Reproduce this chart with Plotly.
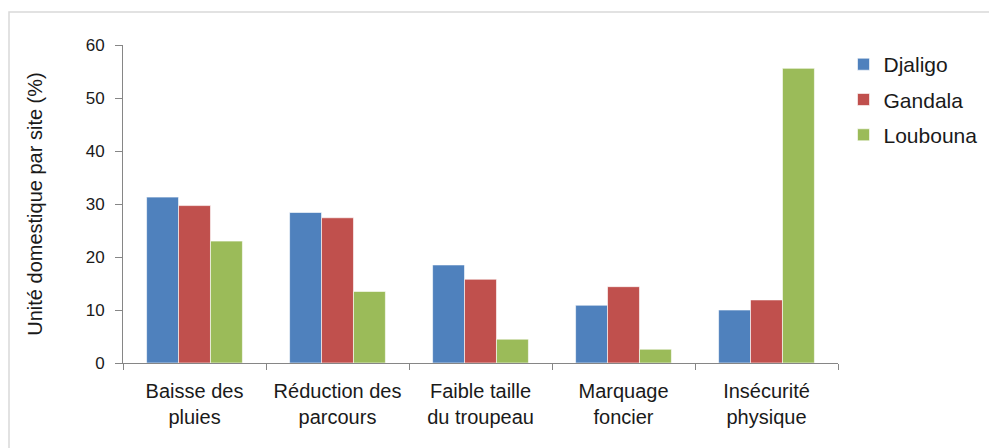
import plotly.graph_objects as go

categories = ["Baisse des<br>pluies", "Réduction des<br>parcours", "Faible taille<br>du troupeau",
              "Marquage<br>foncier", "Insécurité<br>physique"]
djaligo = [31.3, 28.4, 18.5, 10.9, 10.0]
gandala = [29.7, 27.4, 15.8, 14.4, 11.9]
loubouna = [23.0, 13.5, 4.5, 2.6, 55.6]

series = [("Djaligo", djaligo, "#4F81BD"),
          ("Gandala", gandala, "#C0504D"),
          ("Loubouna", loubouna, "#9BBB59")]

fig = go.Figure()
for name, vals, col in series:
    fig.add_trace(go.Bar(x=categories, y=vals, name=name, marker_color=col,
                         marker_line=dict(color="rgba(255,255,255,0.6)", width=1),
                         legendgroup=name))

fig.update_layout(
    width=989, height=448,
    margin=dict(l=123, r=151, t=45, b=85, autoexpand=False),
    paper_bgcolor="white", plot_bgcolor="white",
    barmode="group", bargap=0.33, bargroupgap=0,
    font=dict(family="Liberation Sans, Arial, sans-serif", size=17, color="#1a1a1a"),
    legend=dict(x=1.0077, y=1.003, xanchor="left", yanchor="top",
                font=dict(size=21), traceorder="grouped", tracegroupgap=5,
                bgcolor="rgba(0,0,0,0)"),
    xaxis=dict(showline=True, linecolor="#868686", linewidth=1,
               ticks="outside", ticklen=6, tickcolor="#868686", tickson="boundaries",
               tickfont=dict(size=20), ticklabelstandoff=10, showgrid=False),
    yaxis=dict(range=[0, 60], dtick=10, showline=True, linecolor="#868686", linewidth=1,
               ticks="outside", ticklen=7, tickcolor="#868686", showgrid=False,
               zeroline=False, tickfont=dict(size=17), ticklabelstandoff=7,
               title=dict(text="Unité domestique par site (%)", font=dict(size=20), standoff=37)),
    shapes=[dict(type="rect", xref="paper", yref="paper",
                 x0=(9 - 123) / 715, x1=(1000 - 123) / 715,
                 y0=(363 - 460) / 318, y1=(363 - 12) / 318,
                 line=dict(color="#d9d9d9", width=1.5), fillcolor="rgba(0,0,0,0)", layer="below")],
)

fig.write_html("out.html", config={"displayModeBar": False},
               post_script="document.body.style.margin='0px';")
